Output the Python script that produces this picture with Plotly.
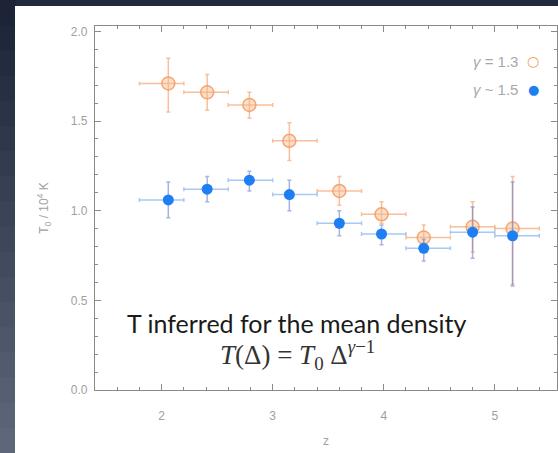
import plotly.graph_objects as go

# ---- data ----
z_center = [2.06, 2.41, 2.79, 3.15, 3.60, 3.98, 4.36, 4.80, 5.16]
z_low = [1.80, 2.20, 2.60, 3.00, 3.40, 3.80, 4.20, 4.60, 5.00]
z_high = [2.20, 2.60, 3.00, 3.40, 3.80, 4.20, 4.60, 5.00, 5.40]

t0_g13 = [1.71, 1.66, 1.59, 1.39, 1.11, 0.98, 0.85, 0.91, 0.90]
t0_g13_up = [0.14, 0.10, 0.07, 0.10, 0.08, 0.07, 0.07, 0.14, 0.29]
t0_g13_dn = [0.16, 0.10, 0.075, 0.11, 0.08, 0.05, 0.03, 0.14, 0.31]

t0_g15 = [1.06, 1.12, 1.17, 1.09, 0.93, 0.87, 0.79, 0.88, 0.86]
t0_g15_up = [0.10, 0.07, 0.05, 0.08, 0.07, 0.05, 0.05, 0.14, 0.30]
t0_g15_dn = [0.10, 0.07, 0.06, 0.09, 0.07, 0.06, 0.07, 0.145, 0.28]

x_ticks = [2, 3, 4, 5]
y_ticks = [0.0, 0.5, 1.0, 1.5, 2.0]
y_tick_text = ["0.0", "0.5", "1.0", "1.5", "2.0"]

W, H = 558, 453
L, R, T, B = 95, 1, 26, 63
PW, PH = W - L - R, H - T - B


def px(x):
    return (x - L) / PW


def py(y):
    return (H - B - y) / PH


xplus = [h - c for h, c in zip(z_high, z_center)]
xminus = [c - l for c, l in zip(z_center, z_low)]

ORANGE = "#f39a5e"
BLUE = "#1e7ff2"

fig = go.Figure()
fig.add_trace(go.Scatter(
    x=z_center, y=t0_g13, mode="markers", name="γ = 1.3",
    marker=dict(symbol="circle", size=13, color="rgba(248,185,140,0.45)",
                line=dict(color="rgba(243,154,94,0.85)", width=1.5)),
    error_x=dict(type="data", symmetric=False, array=xplus, arrayminus=xminus,
                 color="rgba(246,170,120,0.75)", thickness=1.5, width=2),
    error_y=dict(type="data", symmetric=False, array=t0_g13_up, arrayminus=t0_g13_dn,
                 color="rgba(246,170,120,0.75)", thickness=1.5, width=2),
    showlegend=False,
))
fig.add_trace(go.Scatter(
    x=z_center, y=t0_g15, mode="markers", name="γ ~ 1.5",
    marker=dict(symbol="circle", size=11, color=BLUE, line=dict(width=0)),
    error_x=dict(type="data", symmetric=False, array=xplus, arrayminus=xminus,
                 color="rgba(110,165,240,0.6)", thickness=1.5, width=2),
    error_y=dict(type="data", symmetric=False, array=t0_g15_up, arrayminus=t0_g15_dn,
                 color="rgba(110,130,200,0.6)", thickness=1.5, width=2),
    showlegend=False,
))

axis_common = dict(
    showline=True, linecolor="#8a8a8a", linewidth=1.2, mirror="ticks",
    ticks="inside", ticklen=6, tickwidth=1, tickcolor="#8a8a8a",
    showgrid=False, zeroline=False,
    tickfont=dict(family="Liberation Sans, Arial", size=12, color="#a0a0a0"),
)

fig.update_xaxes(
    range=[1.4, 5.56], tickvals=x_ticks, ticklabelstandoff=14,
    minor=dict(dtick=0.2, tick0=0, ticks="inside", ticklen=3, tickcolor="#8a8a8a"),
    title=dict(text="z", font=dict(family="Liberation Sans, Arial", size=12, color="#a0a0a0"),
               standoff=15),
    **axis_common,
)
fig.update_yaxes(
    range=[0, 2.03], tickvals=y_ticks, ticktext=y_tick_text, ticklabelstandoff=4,
    minor=dict(dtick=0.1, tick0=0, ticks="inside", ticklen=3, tickcolor="#8a8a8a"),
    title=dict(text="T<sub>0</sub> / 10<sup>4</sup> K",
               font=dict(family="Liberation Sans, Arial", size=12, color="#a0a0a0"),
               standoff=19),
    **axis_common,
)

shapes = []
# dark slide background bands on the left strip (gradient look)
top_rgb = (28, 36, 54)
bot_rgb = (94, 102, 122)
n = 18
for i in range(n):
    f = i / (n - 1)
    c = tuple(int(a + (b - a) * f) for a, b in zip(top_rgb, bot_rgb))
    shapes.append(dict(type="rect", xref="paper", yref="paper", layer="below",
                       x0=px(-1), x1=px(16), y0=py(H * (i + 1) / n + 1), y1=py(H * i / n),
                       fillcolor="rgb(%d,%d,%d)" % c, line=dict(width=0)))
# white panel
shapes.append(dict(type="rect", xref="paper", yref="paper", layer="below",
                   x0=px(15), x1=px(W + 5), y0=py(H + 5), y1=py(6),
                   fillcolor="white", line=dict(width=0)))

annotations = [
    dict(text="T inferred for the mean density", xref="paper", yref="paper",
         x=px(296), y=py(323), showarrow=False, xanchor="center", yanchor="middle",
         font=dict(family="Lato, Open Sans", size=25, color="#1a1a1a")),
    dict(text="<i>T</i>(Δ) = <i>T</i><sub>0</sub>&nbsp;Δ<sup><i>γ</i>−1</sup>",
         xref="paper", yref="paper", x=px(297), y=py(355), showarrow=False,
         xanchor="center", yanchor="middle",
         font=dict(family="Liberation Serif, DejaVu Serif", size=27, color="#333333")),
    dict(text="<i>γ</i> = 1.3", xref="paper", yref="paper", x=px(520), y=py(61),
         showarrow=False, xanchor="right", yanchor="middle",
         font=dict(family="Liberation Sans, Arial", size=15, color="#a8a8a8")),
    dict(text="<i>γ</i> ~ 1.5", xref="paper", yref="paper", x=px(520), y=py(89),
         showarrow=False, xanchor="right", yanchor="middle",
         font=dict(family="Liberation Sans, Arial", size=15, color="#a8a8a8")),
    dict(text="○", xref="paper", yref="paper", x=px(533), y=py(61),
         showarrow=False, xanchor="center", yanchor="middle",
         font=dict(family="DejaVu Sans", size=14, color=ORANGE)),
    dict(text="●", xref="paper", yref="paper", x=px(533), y=py(89),
         showarrow=False, xanchor="center", yanchor="middle",
         font=dict(family="DejaVu Sans", size=13, color=BLUE)),
]

fig.update_layout(
    width=W, height=H,
    margin=dict(l=L, r=R, t=T, b=B, autoexpand=False),
    paper_bgcolor="#222b3d", plot_bgcolor="rgba(0,0,0,0)",
    shapes=shapes, annotations=annotations, showlegend=False,
)

fig.write_html("out.html")
